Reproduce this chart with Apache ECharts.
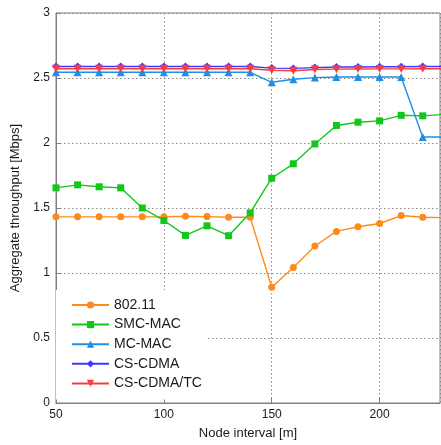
<!DOCTYPE html>
<html><head><meta charset="utf-8">
<script src="https://cdn.jsdelivr.net/npm/echarts@6/dist/echarts.min.js"></script>
<style>html,body{margin:0;padding:0;background:#fff}#c{width:441px;height:445px}</style>
</head><body><div id="c"></div>
<script>
const nodeInterval = [50,60,70,80,90,100,110,120,130,140,150,160,170,180,190,200,210,220,230];
const s80211   = [1.432,1.432,1.432,1.432,1.432,1.432,1.437,1.434,1.429,1.429,0.891,1.043,1.208,1.32,1.356,1.381,1.442,1.429,1.425];
const smcMac   = [1.655,1.678,1.663,1.655,1.50,1.404,1.289,1.363,1.287,1.462,1.729,1.84,1.993,2.135,2.16,2.17,2.213,2.209,2.22];
const mcMac    = [2.544,2.544,2.544,2.544,2.544,2.544,2.544,2.544,2.544,2.544,2.467,2.49,2.503,2.508,2.508,2.508,2.508,2.046,2.046];
const csCdma   = [2.589,2.589,2.589,2.589,2.589,2.589,2.589,2.589,2.589,2.589,2.576,2.574,2.58,2.585,2.585,2.587,2.587,2.589,2.589];
const csCdmaTc = [2.571,2.571,2.571,2.571,2.571,2.571,2.571,2.571,2.571,2.571,2.560,2.556,2.565,2.568,2.569,2.570,2.570,2.571,2.571];
const yTicks = ['0','0.5','1','1.5','2','2.5','3'];
const seriesNames = ['802.11','SMC-MAC','MC-MAC','CS-CDMA','CS-CDMA/TC'];

const FONT = 'Liberation Sans';
function pairs(arr){ return nodeInterval.map((x,i)=>[x,arr[i]]); }
function mk(name, data, color, symbol, size, rot){
  return {
    name, type:'line', data:pairs(data), symbol, symbolSize:size, symbolRotate:rot||0,
    clip:true, animation:false,
    lineStyle:{color, width:1.4},
    itemStyle:{color},
    emphasis:{disabled:true}
  };
}
const chart = echarts.init(document.getElementById('c'), null, {renderer:'canvas'});
chart.setOption({
  animation:false,
  backgroundColor:'#fff',
  grid:{left:56, right:1, top:13, bottom:38, show:true, borderColor:'#808080', borderWidth:1, containLabel:false},
  xAxis:{
    type:'value', min:50, max:228, interval:50,
    name:'Node interval [m]', nameLocation:'middle', nameGap:24,
    nameTextStyle:{fontFamily:FONT, fontSize:13, color:'#1a1a1a'},
    axisLine:{lineStyle:{color:'#808080'}},
    axisTick:{inside:true, length:5, lineStyle:{color:'#808080'}},
    axisLabel:{fontFamily:FONT, fontSize:12, color:'#1a1a1a', showMaxLabel:false, margin:6},
    splitLine:{show:true, lineStyle:{color:'#8a8a8a', type:[1.5,2.5], width:1}}
  },
  yAxis:{
    type:'value', min:0, max:3, interval:0.5,
    name:'Aggregate throughput [Mbps]', nameLocation:'middle', nameGap:27,
    nameTextStyle:{fontFamily:FONT, fontSize:13, color:'#1a1a1a'},
    axisLine:{show:true, lineStyle:{color:'#808080'}},
    axisTick:{show:true, inside:true, length:5, lineStyle:{color:'#808080'}},
    axisLabel:{fontFamily:FONT, fontSize:12, color:'#1a1a1a', margin:6,
      formatter:(v)=>{const i=Math.round(v/0.5); return yTicks[i]!==undefined?yTicks[i]:String(v);}},
    splitLine:{show:true, lineStyle:{color:'#8a8a8a', type:[1.5,2.5], width:1}}
  },
  legend:{
    data:seriesNames, orient:'vertical', left:56, top:290,
    backgroundColor:'#fff', padding:[7,6,8,15],
    itemWidth:37, itemHeight:9, itemGap:3.6,
    textStyle:{fontFamily:FONT, fontSize:14, color:'#1a1a1a', lineHeight:16, padding:[0,0,0,0]},
    selectedMode:false
  },
  series:[
    mk('802.11', s80211, '#ff8a1c', 'circle', 7),
    mk('SMC-MAC', smcMac, '#12c61a', 'rect', 7),
    mk('MC-MAC', mcMac, '#1e8ee6', 'triangle', 8),
    mk('CS-CDMA', csCdma, '#3a3aff', 'diamond', 8),
    mk('CS-CDMA/TC', csCdmaTc, '#ff3a3a', 'triangle', 8, 180)
  ]
});
</script></body></html>
